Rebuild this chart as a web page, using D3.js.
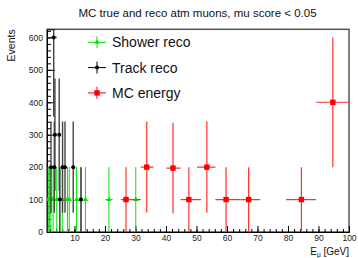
<!DOCTYPE html>
<html lang="en">
<head>
  <meta charset="UTF-8">
  <title>mc reco</title>
  <script src="https://cdn.jsdelivr.net/npm/d3@7"></script>
  <style>
    body { margin: 0; background: #fff; }
    text { font-family: "Liberation Sans", Arial, sans-serif; }
  </style>
</head>
<body>
<svg id="chart"></svg>
<script>
  const width = 358, height = 258;

  // shower reco (green triangles)
  const showerX = [1.4, 1.8, 2.3, 3.0, 4.2, 5.2, 6.0, 7.7, 8.3, 10.7, 12.3, 13.6, 21.3, 30.1];
  const showerY = [100, 100, 100, 100, 100, 100, 100, 100, 100, 100, 100, 100, 100, 100];
  const showerXErr = [0.2, 0.2, 0.2, 0.3, 0.3, 0.3, 0.3, 0.3, 0.3, 0.4, 0.4, 0.4, 1.2, 1.6];
  const showerYErr = [100, 100, 100, 100, 100, 100, 100, 100, 100, 100, 100, 100, 100, 100];

  // track reco (black circles)
  const trackX = [3.2, 3.6, 5.0, 2.3, 3.4, 6.1, 6.9, 9.6, 5.2, 12.1];
  const trackY = [600, 300, 300, 200, 200, 200, 200, 200, 100, 100];
  const trackXLo = [2.3, 3.3, 4.7, 2.0, 3.1, 5.8, 6.6, 9.3, 4.9, 11.7];
  const trackXHi = [4.2, 3.9, 5.3, 2.6, 3.7, 6.4, 7.2, 9.9, 5.5, 12.5];
  const trackYErr = [245, 173, 173, 141, 141, 141, 141, 141, 100, 100];

  // MC energy (red squares)
  const mcX = [26.9, 33.7, 42.3, 47.5, 53.4, 59.7, 67.1, 84.4, 94.7];
  const mcY = [100, 200, 197, 100, 200, 100, 100, 100, 400];
  const mcXLo = [25.2, 31.7, 40.2, 44.8, 50.2, 56.2, 64.4, 79.4, 89.2];
  const mcXHi = [31.7, 35.8, 44.8, 51.5, 56.2, 64.4, 70.9, 89.2, 100];
  const mcYErr = [100, 141, 140, 100, 141, 100, 100, 100, 200];

  const xTicks = [10, 20, 30, 40, 50, 60, 70, 80, 90, 100];
  const yTicks = [0, 100, 200, 300, 400, 500, 600];

  const mLeft = 47, mRight = 349, mTop = 29.3, mBottom = 232;

  const svg = d3.select('#chart').attr('width', width).attr('height', height);

  const x = d3.scaleLinear().domain([1, 100]).range([mLeft, mRight]);
  const y = d3.scaleLinear().domain([0, 625]).range([mBottom, mTop]);

  svg.append('clipPath').attr('id', 'clip')
    .append('rect').attr('x', mLeft).attr('y', mTop)
    .attr('width', mRight - mLeft).attr('height', mBottom - mTop);

  // frame
  svg.append('rect')
    .attr('x', mLeft).attr('y', mTop)
    .attr('width', mRight - mLeft).attr('height', mBottom - mTop)
    .attr('fill', 'none').attr('stroke', '#555').attr('stroke-width', 1.5);

  // axes, ticks pointing inward
  svg.append('g').attr('transform', `translate(0,${mBottom})`)
    .call(d3.axisBottom(x).tickValues(d3.range(2, 100, 2)).tickSize(-3).tickFormat(''))
    .call(g => g.select('.domain').remove());
  svg.append('g').attr('transform', `translate(0,${mBottom})`)
    .call(d3.axisBottom(x).tickValues(xTicks).tickSize(-6).tickPadding(3))
    .call(g => g.select('.domain').attr('stroke', '#000'))
    .call(g => g.selectAll('text').attr('font-size', 8.5).attr('fill', '#222')
      .attr('font-family', '"Liberation Sans", Arial, sans-serif'));

  svg.append('g').attr('transform', `translate(${mLeft},0)`)
    .call(d3.axisLeft(y).tickValues(d3.range(0, 625, 20)).tickSize(-4).tickFormat(''))
    .call(g => g.select('.domain').remove());
  svg.append('g').attr('transform', `translate(${mLeft},0)`)
    .call(d3.axisLeft(y).tickValues(yTicks).tickSize(-8).tickPadding(4))
    .call(g => g.select('.domain').attr('stroke', '#000'))
    .call(g => g.selectAll('text').attr('font-size', 8.5).attr('fill', '#222')
      .attr('font-family', '"Liberation Sans", Arial, sans-serif'));

  const marks = svg.append('g').attr('clip-path', 'url(#clip)');

  function errorBars(g, xs, ys, xlo, xhi, yerr, color, w) {
    xs.forEach((v, i) => {
      g.append('line')
        .attr('x1', x(v)).attr('x2', x(v))
        .attr('y1', y(ys[i] - yerr[i])).attr('y2', y(ys[i] + yerr[i]))
        .attr('stroke', color).attr('stroke-width', w);
      g.append('line')
        .attr('x1', x(xlo[i])).attr('x2', x(xhi[i]))
        .attr('y1', y(ys[i])).attr('y2', y(ys[i]))
        .attr('stroke', color).attr('stroke-width', w);
    });
  }

  // shower reco
  errorBars(marks, showerX, showerY,
    showerX.map((v, i) => v - showerXErr[i]), showerX.map((v, i) => v + showerXErr[i]),
    showerYErr, '#00e600', 1);
  const tri = d3.symbol().type(d3.symbolTriangle).size(12);
  marks.selectAll('.tri').data(showerX).join('path')
    .attr('transform', (d, i) => `translate(${x(d)},${y(showerY[i])})`)
    .attr('d', tri).attr('fill', '#00e600');

  // track reco
  errorBars(marks, trackX, trackY, trackXLo, trackXHi, trackYErr, '#444', 1.4);
  marks.selectAll('.dot').data(trackX).join('circle')
    .attr('cx', d => x(d)).attr('cy', (d, i) => y(trackY[i]))
    .attr('r', 2).attr('fill', '#000');

  // MC energy
  errorBars(marks, mcX, mcY, mcXLo, mcXHi, mcYErr, '#ff3030', 1.2);
  marks.selectAll('.sq').data(mcX).join('rect')
    .attr('x', d => x(d) - 2.7).attr('y', (d, i) => y(mcY[i]) - 2.7)
    .attr('width', 5.4).attr('height', 5.4).attr('fill', '#ff0000');

  // legend
  const legend = [
    { label: 'Shower reco', color: '#00e600', shape: 'tri' },
    { label: 'Track reco', color: '#000', shape: 'dot' },
    { label: 'MC energy', color: '#ff0000', shape: 'sq' },
  ];
  legend.forEach((d, i) => {
    const cy = 42.3 + i * 25.3, cx = 97;
    const g = svg.append('g');
    g.append('line').attr('x1', cx - 9).attr('x2', cx + 9).attr('y1', cy).attr('y2', cy)
      .attr('stroke', d.color);
    g.append('line').attr('x1', cx).attr('x2', cx).attr('y1', cy - 6).attr('y2', cy + 6)
      .attr('stroke', d.color);
    if (d.shape === 'tri') {
      g.append('path').attr('transform', `translate(${cx},${cy})`)
        .attr('d', tri).attr('fill', d.color);
    } else if (d.shape === 'dot') {
      g.append('circle').attr('cx', cx).attr('cy', cy).attr('r', 2).attr('fill', d.color);
    } else {
      g.append('rect').attr('x', cx - 2.7).attr('y', cy - 2.7)
        .attr('width', 5.4).attr('height', 5.4).attr('fill', d.color);
    }
    g.append('text').attr('x', 112).attr('y', cy).attr('dy', '0.36em')
      .attr('font-size', 14).attr('fill', '#111').text(d.label);
  });

  // title and axis titles
  svg.append('text').attr('x', 197.5).attr('y', 17.2)
    .attr('text-anchor', 'middle').attr('font-size', 11.5).attr('fill', '#111')
    .text('MC true and reco atm muons, mu score < 0.05');

  svg.append('text')
    .attr('transform', `translate(15,${mTop}) rotate(-90)`)
    .attr('text-anchor', 'end').attr('font-size', 10.5).attr('fill', '#111')
    .text('Events');

  const xt = svg.append('text').attr('x', mRight).attr('y', 255)
    .attr('text-anchor', 'end').attr('font-size', 10).attr('fill', '#111');
  xt.append('tspan').text('E');
  xt.append('tspan').attr('font-size', 6.5).attr('dy', 2).text('μ');
  xt.append('tspan').attr('dy', -2).text(' [GeV]');
</script>
</body>
</html>
